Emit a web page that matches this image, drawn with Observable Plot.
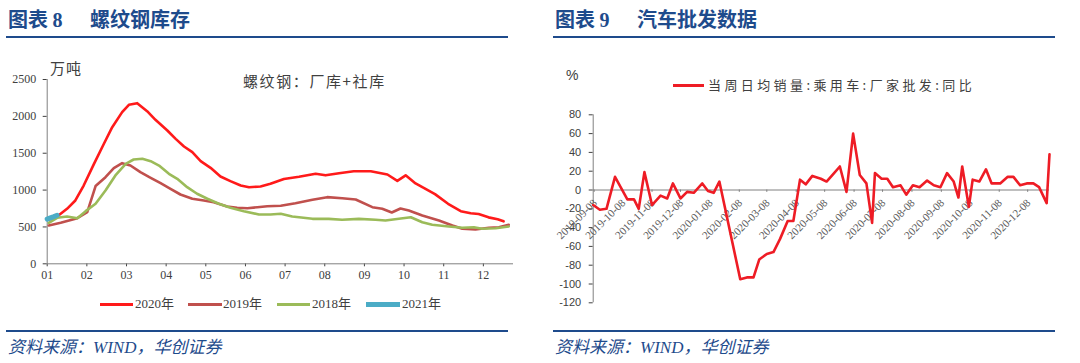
<!DOCTYPE html>
<html><head><meta charset="utf-8">
<script src="https://cdn.jsdelivr.net/npm/d3@7"></script>
<script src="https://cdn.jsdelivr.net/npm/@observablehq/plot@0.6"></script>
<style>
html,body{margin:0;padding:0;background:#fff;}
body{width:1080px;height:363px;overflow:hidden;position:relative;font-family:"Noto Sans CJK SC",sans-serif;}
.abs{position:absolute;white-space:nowrap;}
.hdr{font-weight:bold;color:#1E4B8C;font-size:20px;line-height:20px;}
.hdr .num{font-family:"Liberation Serif",serif;font-weight:bold;}
.rule{position:absolute;height:2px;background:#1E4B8C;}
.src{font-style:italic;color:#1E4B8C;font-size:17px;line-height:18px;font-family:"Liberation Serif","Noto Sans CJK SC",serif;}
.lg{font-family:"Liberation Serif","Noto Sans CJK SC",serif;font-size:13px;color:#404040;line-height:14px;}
.sw{position:absolute;}
svg{position:absolute;}
</style></head><body>
<script>
// ---------- Data: 螺纹钢库存 (万吨) ----------
const monthLabels = ["01","02","03","04","05","06","07","08","09","10","11","12"];
const yTicksLeft = [0,500,1000,1500,2000,2500];
const m2020 = [1.04,1.21,1.50,1.71,1.92,2.18,2.43,2.64,2.89,3.06,3.27,3.52,3.73,4.03,4.24,4.45,4.66,4.87,5.12,5.37,5.62,5.88,6.09,6.38,6.63,6.97,7.35,7.77,8.02,8.36,8.73,9.16,9.58,9.83,10.04,10.29,10.78,11.11,11.43,11.68,11.88,12.13,12.36,12.51];
const v2020 = [600,624,746,859,1062,1356,1628,1853,2057,2157,2179,2070,1953,1808,1695,1591,1514,1392,1302,1184,1121,1062,1039,1049,1085,1150,1180,1221,1200,1229,1256,1256,1211,1125,1200,1090,945,814,714,686,675,630,605,576];
const m2019 = [1.04,1.34,1.76,2.01,2.22,2.47,2.68,2.89,3.10,3.35,3.61,3.86,4.11,4.36,4.66,4.95,5.20,5.54,5.79,6.05,6.30,6.55,6.89,7.26,7.69,8.06,8.44,8.78,9.20,9.45,9.69,9.91,10.12,10.46,10.88,11.22,11.47,11.80,12.14,12.39,12.64];
const v2019 = [520,556,619,700,1055,1175,1297,1365,1333,1243,1167,1093,1017,940,882,859,836,777,760,754,768,781,787,822,868,904,890,872,768,746,696,750,723,655,587,520,475,465,488,496,529];
const m2018 = [1.04,1.25,1.50,1.76,1.97,2.22,2.47,2.72,2.98,3.18,3.40,3.61,3.82,4.07,4.28,4.53,4.78,5.04,5.33,5.62,5.96,6.34,6.63,6.89,7.18,7.69,8.10,8.44,8.86,9.28,9.53,9.87,10.17,10.46,10.71,11.13,11.47,11.76,11.97,12.31,12.64];
const v2018 = [556,624,641,619,714,814,994,1198,1356,1415,1424,1392,1333,1221,1153,1039,950,882,814,760,714,669,669,678,641,610,610,597,610,597,587,610,632,564,529,506,488,496,475,483,506];
const m2021 = [1.0,1.08,1.17,1.25];
const v2021 = [605,622,640,658];
const seriesNames = ["2020年","2019年","2018年","2021年"];

// ---------- Data: 汽车批发数据 (%) ----------
const carDates = ["2019-09-07","2019-09-14","2019-09-21","2019-09-30","2019-10-13","2019-10-20","2019-10-25","2019-10-31","2019-11-08","2019-11-17","2019-11-24","2019-11-30","2019-12-08","2019-12-15","2019-12-22","2019-12-31","2020-01-06","2020-01-12","2020-01-18","2020-02-09","2020-02-16","2020-02-23","2020-02-29","2020-03-08","2020-03-15","2020-03-22","2020-03-30","2020-04-05","2020-04-12","2020-04-18","2020-04-25","2020-05-04","2020-05-10","2020-05-17","2020-05-24","2020-05-31","2020-06-07","2020-06-14","2020-06-21","2020-06-27","2020-06-30","2020-07-07","2020-07-13","2020-07-19","2020-07-27","2020-08-02","2020-08-09","2020-08-16","2020-08-24","2020-08-31","2020-09-07","2020-09-14","2020-09-21","2020-09-26","2020-09-30","2020-10-07","2020-10-11","2020-10-18","2020-10-25","2020-10-31","2020-11-09","2020-11-17","2020-11-23","2020-11-30","2020-12-07","2020-12-14","2020-12-20","2020-12-28","2020-12-31"];
const carYoY = [-16,-21,-20,14,-10,-10,-20,19,-16,-6,-9,7,-9,-2,-3,7,-1,-3,9,-95,-93,-93,-74,-68,-66,-52,-33,-33,11,6,15,12,9,17,25,-2,60,16,7,-35,18,12,12,3,5,-5,5,3,10,5,3,18,9,-8,25,-18,11,9,22,7,7,14,14,5,7,7,3,-14,38];
const carTickLabels = ["2019-09-08","2019-10-08","2019-11-08","2019-12-08","2020-01-08","2020-02-08","2020-03-08","2020-04-08","2020-05-08","2020-06-08","2020-07-08","2020-08-08","2020-09-08","2020-10-08","2020-11-08","2020-12-08"];
const yTicksRight = [-120,-100,-80,-60,-40,-20,0,20,40,60,80];
const carSeriesName = "当周日均销量:乘用车:厂家批发:同比";

// ---------- build tables ----------
const zip = (ms, vs) => ms.map((m, i) => ({m, v: vs[i]}));
const d2020 = zip(m2020, v2020), d2019 = zip(m2019, v2019), d2018 = zip(m2018, v2018), d2021 = zip(m2021, v2021);
const carData = carDates.map((d, i) => ({date: new Date(d), v: carYoY[i]}));
const carTicks = carTickLabels.map(s => ({date: new Date(s), label: s}));

const cRed = "#FF1A1A", cBrown = "#C0504D", cGreen = "#9BBB59", cBlue = "#4BACC6";

const left = Plot.plot({
  width: 540, height: 240,
  marginLeft: 46.7, marginRight: 27, marginTop: 19, marginBottom: 36.7,
  style: {fontFamily: "Liberation Serif, serif", fontSize: "12px", color: "#404040", background: "transparent"},
  x: {domain: [1, 12.76], ticks: d3.range(1, 13), tickFormat: d => monthLabels[d - 1], tickSize: 3, tickPadding: 4, label: null},
  y: {domain: [0, 2500], ticks: yTicksLeft, tickFormat: d => String(d), tickSize: 4, tickPadding: 7, label: null},
  marks: [
    Plot.ruleX([1], {stroke: "#808080"}),
    Plot.ruleY([0], {stroke: "#808080"}),
    Plot.line(d2020, {x: "m", y: "v", stroke: cRed, strokeWidth: 2.6}),
    Plot.line(d2019, {x: "m", y: "v", stroke: cBrown, strokeWidth: 2.6}),
    Plot.line(d2018, {x: "m", y: "v", stroke: cGreen, strokeWidth: 2.6}),
    Plot.line(d2021, {x: "m", y: "v", stroke: cBlue, strokeWidth: 5})
  ]
});
left.style.left = "0px"; left.style.top = "60px";
document.body.appendChild(left);

const right = Plot.plot({
  width: 540, height: 260,
  marginLeft: 52.7, marginRight: 31, marginTop: 54.3, marginBottom: 17.7,
  style: {fontFamily: "Liberation Sans, sans-serif", fontSize: "11px", color: "#404040", background: "transparent"},
  x: {type: "utc", domain: [new Date("2019-09-07"), new Date("2020-12-31")], axis: null},
  y: {domain: [-120, 80], ticks: yTicksRight, tickFormat: d => String(d), tickSize: 4, tickPadding: 8, label: null},
  marks: [
    Plot.ruleX([new Date("2019-09-07")], {stroke: "#808080"}),
    Plot.ruleY([0], {stroke: "#808080"}),
    Plot.ruleX(carTicks, {x: "date", y1: 0, y2: -2.5, stroke: "#808080"}),
    Plot.text(carTicks, {x: "date", y: 0, text: "label", rotate: -45, textAnchor: "end", dx: 1, dy: 11, fill: "#595959", fontSize: 11, fontFamily: "Liberation Serif, serif"}),
    Plot.line(carData, {x: "date", y: "v", stroke: "#EE1C25", strokeWidth: 2.6})
  ]
});
right.style.left = "540px"; right.style.top = "60px";
document.body.appendChild(right);

// ---------- HTML text ----------
function addDiv(html, cls, style) {
  const d = document.createElement("div");
  d.className = "abs " + (cls || "");
  d.innerHTML = html;
  Object.assign(d.style, style);
  document.body.appendChild(d);
  return d;
}
// headers
addDiv('图表 <span class="num">8</span>', "hdr", {left: "8px", top: "9px"});
addDiv('螺纹钢库存', "hdr", {left: "90px", top: "9px"});
addDiv('图表 <span class="num">9</span>', "hdr", {left: "555px", top: "9px"});
addDiv('汽车批发数据', "hdr", {left: "637px", top: "9px"});
addDiv('', "rule", {left: "6px", top: "36px", width: "502px"});
addDiv('', "rule", {left: "553px", top: "36px", width: "502px"});
addDiv('', "rule", {left: "6px", top: "330px", width: "502px"});
addDiv('', "rule", {left: "553px", top: "330px", width: "502px"});
addDiv('资料来源：WIND，华创证券', "src", {left: "8px", top: "339px"});
addDiv('资料来源：WIND，华创证券', "src", {left: "555px", top: "339px"});

// left chart annotations
addDiv('万吨', "", {left: "50px", top: "59px", fontSize: "15px", lineHeight: "18px", color: "#404040", letterSpacing: "1px"});
addDiv('螺纹钢：厂库+社库', "", {left: "243px", top: "72px", fontSize: "15px", lineHeight: "18px", color: "#404040", letterSpacing: "1.6px"});

// left legend
const legendItems = [
  {name: seriesNames[0], color: cRed, w: 3, x0: 100, x1: 133, tx: 135},
  {name: seriesNames[1], color: cBrown, w: 3, x0: 188, x1: 222, tx: 223},
  {name: seriesNames[2], color: cGreen, w: 3, x0: 277, x1: 310, tx: 312},
  {name: seriesNames[3], color: cBlue, w: 5, x0: 366, x1: 400, tx: 402}
];
legendItems.forEach(it => {
  addDiv('', "sw", {left: it.x0 + "px", top: (304 - it.w / 2) + "px", width: (it.x1 - it.x0) + "px", height: it.w + "px", background: it.color});
  addDiv(it.name, "lg", {left: it.tx + "px", top: "297px"});
});

// right chart annotations
addDiv('%', "", {left: "566px", top: "66px", fontSize: "14px", lineHeight: "18px", color: "#404040", fontFamily: "Liberation Sans, sans-serif"});
addDiv('', "sw", {left: "673px", top: "84px", width: "31px", height: "2.5px", background: "#EE1C25"});
addDiv(carSeriesName, "", {left: "708px", top: "76px", fontSize: "13px", lineHeight: "18px", color: "#404040", letterSpacing: "3.4px"});
</script>
</body></html>
